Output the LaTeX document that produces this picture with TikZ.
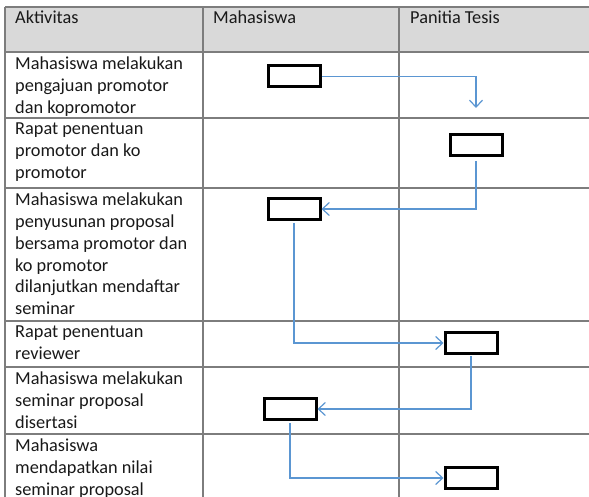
\documentclass[tikz,border=0pt]{standalone}
\usepackage{fontspec}
\setmainfont{Carlito}
\usetikzlibrary{arrows.meta}
\definecolor{gridgray}{RGB}{125,125,125}
\definecolor{headgray}{RGB}{217,217,217}
\definecolor{flowblue}{RGB}{91,150,210}

\begin{document}
\begin{tikzpicture}
[x=1pt, y=-1pt,
 cell/.style={anchor=north west, inner sep=0, align=left, font=\fontsize{18.3}{21.7}\selectfont, text=black!90},
 act/.style={draw=black, line width=3pt, fill=white, minimum width=52pt, minimum height=21pt, inner sep=0},
 flow/.style={draw=flowblue, line width=1.2pt, -{Straight Barb[length=7pt,width=13pt]}},
 grid/.style={draw=gridgray, line width=1.6pt}]
\useasboundingbox (0,0) rectangle (589,497);

% table
\fill[headgray] (5,7) rectangle (589,52);
\foreach \y in {7,52,118,188,321,367,434}
  \draw[grid] (5,\y) -- (589,\y);
\foreach \x in {5,203,399}
  \draw[grid] (\x,7) -- (\x,497);

% header
\node (hakt) at (15,11) [cell] {Aktivitas};
\node (hmhs) at (213,11) [cell] {Mahasiswa};
\node (hpan) at (410,11) [cell] {Panitia Tesis};

% activities
\node (a1) at (15,57) [cell] {Mahasiswa melakukan\\pengajuan promotor\\dan kopromotor};
\node (a2) at (15,123) [cell] {Rapat penentuan\\promotor dan ko\\promotor};
\node (a3) at (15,193) [cell] {Mahasiswa melakukan\\penyusunan proposal\\bersama promotor dan\\ko promotor\\dilanjutkan mendaftar\\seminar};
\node (a4) at (15,326) [cell] {Rapat penentuan\\reviewer};
\node (a5) at (15,372) [cell] {Mahasiswa melakukan\\seminar proposal\\disertasi};
\node (a6) at (15,439) [cell] {Mahasiswa\\mendapatkan nilai\\seminar proposal};

% boxes
\node (b1) at (294,76.5) [act] {};
\node (b2) at (476,145) [act] {};
\node (b3) at (294,209) [act] {};
\node (b4) at (471,343) [act] {};
\node (b5) at (290,409) [act] {};
\node (b6) at (471,478) [act] {};
\coordinate (e1) at (476,108);

\draw[flow] (b1.east) -| (e1);
\draw[flow, shorten <=4pt] (b2.south) |- (b3.east);
\draw[flow, shorten <=2pt] (b3.south) |- (b4.west);
\draw[flow, shorten <=1pt] (b4.south) |- (b5.east);
\draw[flow, shorten <=2pt] (b5.south) |- (b6.west);
\end{tikzpicture}
\end{document}
